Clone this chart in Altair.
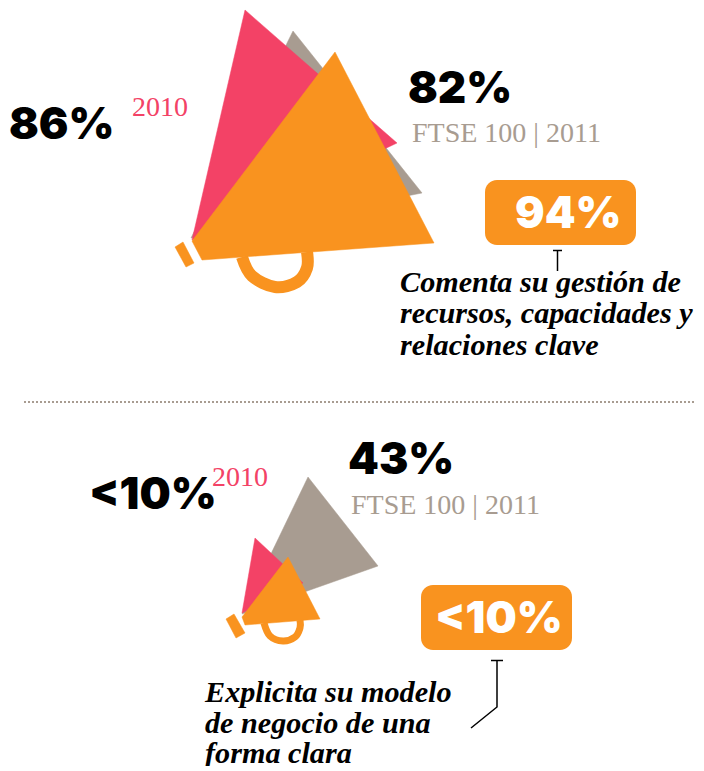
import altair as alt
import pandas as pd

ORANGE = "#F9931F"
PINK = "#F34266"
GRAY = "#A89C91"

gray_top_x = [293, 422, 191]
gray_top_y = [31, 193, 238]
pink_top_x = [245, 397, 192]
pink_top_y = [10, 143, 240]
orange_top_x = [335, 434, 202, 192]
orange_top_y = [52, 243, 260, 241]
tab_top_x = [175, 183, 194, 186]
tab_top_y = [247, 242, 263, 267]
handle_top_x = [242, 252, 275, 297, 307, 307]
handle_top_y = [257, 276, 287, 282, 268, 252]

gray_low_x = [308, 378, 242]
gray_low_y = [477, 566, 614]
pink_low_x = [255, 303, 242]
pink_low_y = [538, 583, 613]
orange_low_x = [288, 320, 245, 242]
orange_low_y = [557, 619, 625, 617]
tab_low_x = [226, 234, 245, 236]
tab_low_y = [619, 614, 633, 638]
handle_low_x = [264, 270, 283, 295, 300, 300]
handle_low_y = [623, 636, 641, 637, 628, 620]

box_x = [485, 421]
box_x2 = [636, 572]
box_y = [180, 585]
box_y2 = [245, 650]

big_text = ["86%", "82%", "<10%", "43%"]
big_x = [9, 408, 89, 348]
big_y = [139, 103, 509, 474]

white_text = ["94%", "<10%"]
white_x = [515, 435]
white_y = [228, 633]

year_text = ["2010", "2010"]
year_x = [132, 212]
year_y = [116, 486]

ftse_text = ["FTSE 100 | 2011", "FTSE 100 | 2011"]
ftse_x = [412, 351]
ftse_y = [142, 514]

note_text = ["Comenta su gestión de", "recursos, capacidades y", "relaciones clave",
             "Explicita su modelo", "de negocio de una", "forma clara"]
note_x = [400, 400, 400, 205, 205, 205]
note_y = [292, 323, 355, 702, 733, 763]

sep_x = [24, 703]
sep_y = [402, 402]

lead_top_x = [557.5, 557.5]
lead_top_y = [250, 271]
cap_top_x = [553, 562]
cap_top_y = [250.5, 250.5]
lead_low_x = [497, 497, 471]
lead_low_y = [660, 707, 728]
cap_low_x = [491, 503]
cap_low_y = [660.5, 660.5]

X = alt.Scale(domain=[8, 696], nice=False, zero=False)
Y = alt.Scale(domain=[766, 8], nice=False, zero=False)
x_enc = alt.X("x:Q", scale=X, axis=None)
y_enc = alt.Y("y:Q", scale=Y, axis=None)


def frame(xs, ys):
    return pd.DataFrame({"x": xs, "y": ys, "i": range(len(xs))})


def polygon(xs, ys, color):
    return alt.Chart(frame(xs, ys)).mark_line(
        interpolate="linear-closed", fill=color, stroke=color, strokeWidth=0.5
    ).encode(x=x_enc, y=y_enc, order="i:Q")


def stroke(xs, ys, color, width, interpolate="linear", dash=None):
    kw = {"strokeDash": dash} if dash else {}
    return alt.Chart(frame(xs, ys)).mark_line(
        interpolate=interpolate, color=color, strokeWidth=width, **kw
    ).encode(x=x_enc, y=y_enc, order="i:Q")


def labels(texts, xs, ys, **style):
    df = pd.DataFrame({"x": xs, "y": ys, "t": texts})
    return alt.Chart(df).mark_text(align="left", baseline="alphabetic", **style).encode(
        x=x_enc, y=y_enc, text="t:N"
    )


boxes = alt.Chart(pd.DataFrame({"x": box_x, "x2": box_x2, "y": box_y, "y2": box_y2})).mark_rect(
    color=ORANGE, cornerRadius=12
).encode(x=x_enc, x2="x2:Q", y=y_enc, y2="y2:Q")

BIG = dict(font="Inter", fontWeight=900, fontSize=44)

layers = [
    polygon(gray_top_x, gray_top_y, GRAY),
    polygon(pink_top_x, pink_top_y, PINK),
    stroke(handle_top_x, handle_top_y, ORANGE, 12, "cardinal"),
    polygon(orange_top_x, orange_top_y, ORANGE),
    polygon(tab_top_x, tab_top_y, ORANGE),
    polygon(gray_low_x, gray_low_y, GRAY),
    polygon(pink_low_x, pink_low_y, PINK),
    stroke(handle_low_x, handle_low_y, ORANGE, 7, "cardinal"),
    polygon(orange_low_x, orange_low_y, ORANGE),
    polygon(tab_low_x, tab_low_y, ORANGE),
    boxes,
    stroke(sep_x, sep_y, GRAY, 2, dash=[2, 2]),
    stroke(lead_top_x, lead_top_y, "#000000", 1.5),
    stroke(cap_top_x, cap_top_y, "#000000", 1.5),
    stroke(lead_low_x, lead_low_y, "#000000", 1.5),
    stroke(cap_low_x, cap_low_y, "#000000", 1.5),
    labels(big_text, big_x, big_y, color="#000000", **BIG),
    labels(white_text, white_x, white_y, color="#FFFFFF", **BIG),
    labels(year_text, year_x, year_y, color=PINK, font="Liberation Serif", fontSize=28),
    labels(ftse_text, ftse_x, ftse_y, color=GRAY, font="Liberation Serif", fontSize=28),
    labels(note_text, note_x, note_y, color="#000000", font="Liberation Serif",
           fontStyle="italic", fontWeight="bold", fontSize=30.2),
]

chart = alt.layer(*layers).properties(
    width=688, height=758, padding=0, autosize=alt.AutoSizeParams(type="none")
).configure_view(stroke=None)
chart.save("out.html", embed_options={"renderer": "svg", "actions": False})
